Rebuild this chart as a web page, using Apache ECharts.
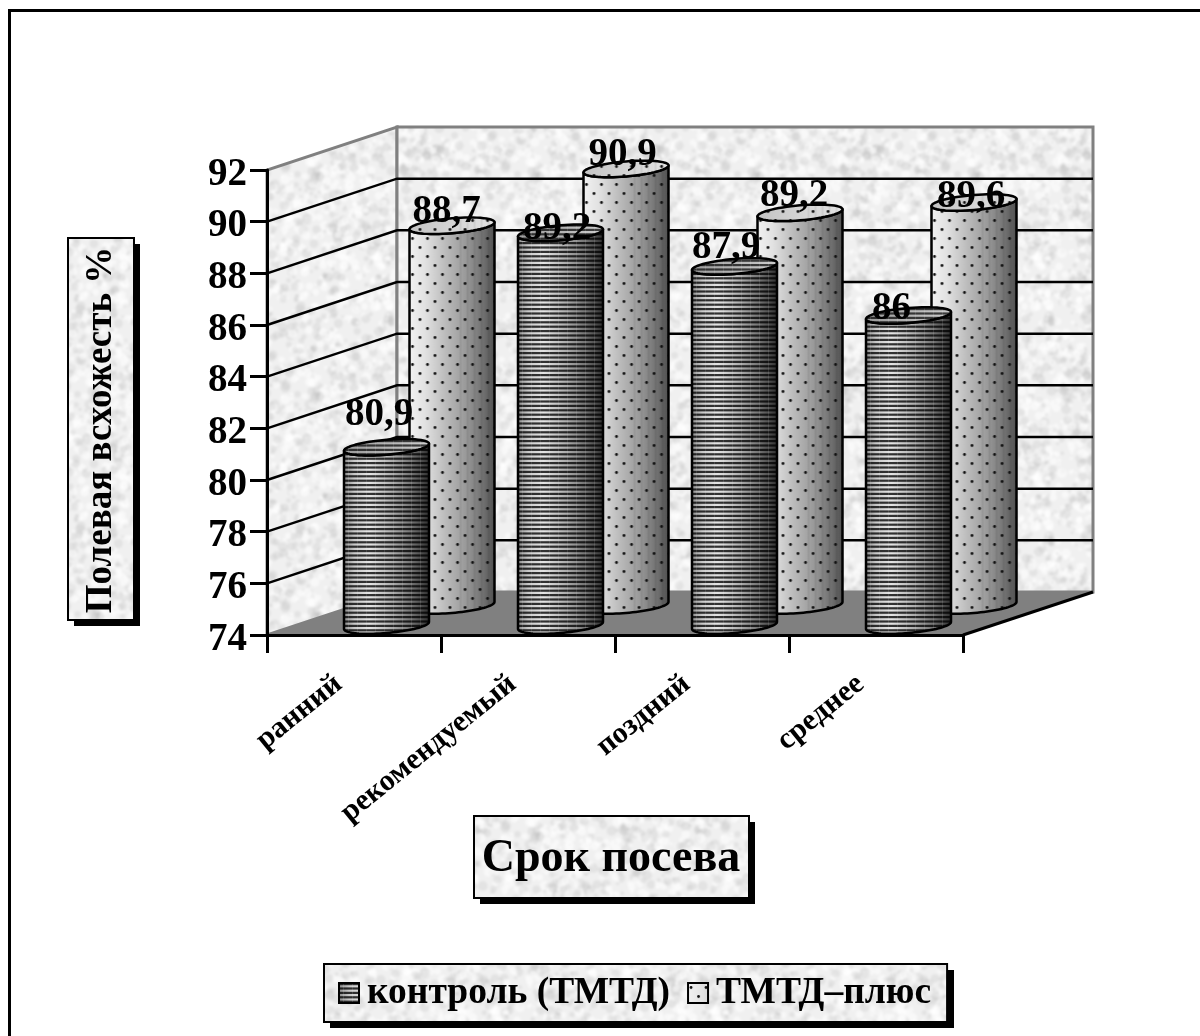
<!DOCTYPE html>
<html><head><meta charset="utf-8">
<style>html,body{margin:0;padding:0;background:#fff}#c{width:1200px;height:1036px}</style>
<script src="https://cdn.jsdelivr.net/npm/echarts@6/dist/echarts.min.js"></script>
</head><body><div id="c"></div>
<script>
// ---- data ----
const categories = ['ранний', 'рекомендуемый', 'поздний', 'среднее'];
const controlValues = [80.9, 89.2, 87.9, 86];
const plusValues = [88.7, 90.9, 89.2, 89.6];
const controlLabels = ['80,9', '89,2', '87,9', '86'];
const plusLabels = ['88,7', '90,9', '89,2', '89,6'];
const yTicks = [74, 76, 78, 80, 82, 84, 86, 88, 90, 92];
const seriesNames = ['контроль (ТМТД)', 'ТМТД–плюс'];
const yTitle = 'Полевая всхожесть %';
const xTitle = 'Срок посева';

// ---- style constants ----
const FONT = '"Liberation Serif","Times New Roman",serif';
const DEPTH = [130, -43];
const RX = 42.5, TILT = 3.5, RY = 7.5;
const controlLabelNudge = [[-7.5, -32], [-3.5, -4], [-8.5, -18], [-17, -7]];
const plusLabelNudge = [[-5.5, -13.5], [-3.5, -13.5], [-6, -16.5], [-3, -5.5]];
const controlOffset = [32.5, -9.5];
const plusOffset = [98, -29.5];

function mulberry(seed) {
  return function () {
    seed |= 0; seed = seed + 0x6D2B79F5 | 0;
    let t = Math.imul(seed ^ seed >>> 15, 1 | seed);
    t = t + Math.imul(t ^ t >>> 7, 61 | t) ^ t;
    return ((t ^ t >>> 14) >>> 0) / 4294967296;
  };
}
function canvasOf(w, h) { const c = document.createElement('canvas'); c.width = w; c.height = h; return c; }

function noiseTile() {
  const S = 220, a = canvasOf(S * 3, S * 3), g = a.getContext('2d'), r = mulberry(12345);
  g.fillStyle = '#f0f0f0'; g.fillRect(0, 0, S * 3, S * 3);
  for (let i = 0; i < 1300; i++) {
    const x = r() * S, y = r() * S, rad = 1 + r() * 4;
    const dark = r() < 0.5;
    g.fillStyle = dark ? 'rgba(180,180,180,0.22)' : 'rgba(255,255,255,0.55)';
    for (let ox = 0; ox < 3; ox++) for (let oy = 0; oy < 3; oy++) {
      g.beginPath(); g.arc(x + ox * S, y + oy * S, rad, 0, 7); g.fill();
    }
  }
  const c = canvasOf(S, S), h = c.getContext('2d');
  h.filter = 'blur(1.2px)';
  h.drawImage(a, -S, -S);
  return { image: c, repeat: 'repeat' };
}
function hGradient(g, w, stops) {
  const gr = g.createLinearGradient(0, 0, w, 0);
  stops.forEach(s => gr.addColorStop(s[0], s[1]));
  return gr;
}
function stripedFill(w, stops, darkAlpha) {
  const H = 22, c = canvasOf(w, H), g = c.getContext('2d');
  g.fillStyle = hGradient(g, w, stops); g.fillRect(0, 0, w, H);
  g.fillStyle = 'rgba(0,0,0,' + darkAlpha + ')';
  for (let i = 0; i < 5; i++) g.fillRect(0, i * 4.4, w, 2.2);
  g.fillStyle = 'rgba(255,255,255,0.12)';
  for (let x = 4; x < w; x += 9) g.fillRect(x, 0, 1, H);
  return { image: c, repeat: 'repeat' };
}
function dottedFill(w, stops) {
  const H = 18, c = canvasOf(w, H), g = c.getContext('2d');
  g.fillStyle = hGradient(g, w, stops); g.fillRect(0, 0, w, H);
  g.fillStyle = 'rgba(0,0,0,0.06)';
  for (let x = 50; x < w; x += 7) g.fillRect(x, 0, 2, H);
  g.fillStyle = '#111';
  for (let x = 3; x < w; x += 15) {
    g.beginPath(); g.arc(x, 4.5, 1.4, 0, 7); g.fill();
    g.beginPath(); g.arc(x + 7.5, 13.5, 1.4, 0, 7); g.fill();
  }
  return { image: c, repeat: 'repeat' };
}
const W = 85;
const stripeBody = stripedFill(W, [[0, '#8a8a8a'], [0.12, '#c8c8c8'], [0.3, '#e4e4e4'], [0.55, '#b0b0b0'], [0.8, '#707070'], [1, '#303030']], 0.78);
const stripeTop = stripedFill(W, [[0, '#999'], [1, '#ccc']], 0.7);
const dotBody = dottedFill(W, [[0, '#f2f2f2'], [0.18, '#e2e2e2'], [0.42, '#bcbcbc'], [0.66, '#9a9a9a'], [0.88, '#6e6e6e'], [1, '#505050']]);
const dotTop = dottedFill(W, [[0, '#c4c4c4'], [1, '#e4e4e4']]);
const texture = noiseTile();

function ellipsePts(cx, cy, from, to, n) {
  const pts = [];
  for (let i = 0; i <= n; i++) {
    const t = from + (to - from) * i / n;
    pts.push([cx + RX * Math.cos(t), cy - TILT * Math.cos(t) + RY * Math.sin(t)]);
  }
  return pts;
}

function cylinderRender(offset, body, top, labels, nudges, z) {
  return function (params, api) {
    const i = params.dataIndex;
    const topPt = api.coord([api.value(0), api.value(1)]);
    const basePt = api.coord([api.value(0), yTicks[0]]);
    const cx = RX, dxGroup = topPt[0] + offset[0] - RX, yT = topPt[1] + offset[1], yB = basePt[1] + offset[1];
    const lowerFront = ellipsePts(cx, yB, Math.PI, 0, 40);
    const topFront = ellipsePts(cx, yT, 0, Math.PI, 40);
    const bodyPts = lowerFront.concat(topFront);
    const topEll = ellipsePts(cx, yT, 0, 2 * Math.PI, 60);
    const n = nudges[i];
    return {
      type: 'group', x: dxGroup, y: 0,
      children: [
        { type: 'polygon', z2: z, shape: { points: bodyPts }, style: { fill: body, stroke: '#000', lineWidth: 2.5, lineJoin: 'round' } },
        { type: 'polygon', z2: z, shape: { points: topEll }, style: { fill: top, stroke: '#000', lineWidth: 2.5, lineJoin: 'round' } },
        { type: 'text', z2: 50, x: RX + n[0], y: yT + n[1],
          style: { text: labels[i], fill: '#000', font: 'bold 39px ' + FONT, align: 'center', verticalAlign: 'middle' } }
      ]
    };
  };
}

function wallRender(params, api) {
  const s = api.size([1, 0])[0];
  const x0 = api.coord([0, yTicks[0]])[0] - s / 2;
  const xN = api.coord([categories.length - 1, yTicks[0]])[0] + s / 2;
  const yBot = api.coord([0, yTicks[0]])[1];
  const yTop = api.coord([0, yTicks[yTicks.length - 1]])[1];
  const dx = DEPTH[0], dy = DEPTH[1];
  const kids = [
    { type: 'polygon', shape: { points: [[x0, yBot], [x0 + dx, yBot + dy], [x0 + dx, yTop + dy], [x0, yTop]] }, style: { fill: texture, stroke: '#808080', lineWidth: 3 } },
    { type: 'rect', shape: { x: x0 + dx, y: yTop + dy, width: xN - x0, height: yBot - yTop }, style: { fill: texture, stroke: '#808080', lineWidth: 3 } },
    { type: 'polygon', shape: { points: [[x0, yBot], [x0 + dx, yBot + dy], [xN + dx, yBot + dy], [xN, yBot]] }, style: { fill: '#808080', stroke: '#808080', lineWidth: 1 } },
    { type: 'line', shape: { x1: xN, y1: yBot, x2: xN + dx, y2: yBot + dy }, style: { stroke: '#000', lineWidth: 3 } }
  ];
  yTicks.slice(1, -1).forEach(v => {
    const y = api.coord([0, v])[1];
    kids.push({ type: 'polyline', shape: { points: [[x0, y], [x0 + dx, y + dy], [xN + dx, y + dy]] }, style: { stroke: '#000', lineWidth: 2.5, fill: null } });
  });
  return { type: 'group', children: kids };
}

const chart = echarts.init(document.getElementById('c'));
const toRows = vals => vals.map((v, i) => [i, v]);
function boxGraphic(x, y, w, h) {
  return [
    { type: 'rect', z: -1, silent: true, shape: { x: x + 6, y: y + 6, width: w, height: h }, style: { fill: '#000' } },
    { type: 'rect', z: 0, silent: true, shape: { x: x, y: y, width: w, height: h }, style: { fill: texture, stroke: '#000', lineWidth: 2 } }
  ];
}
chart.setOption({
  animation: false,
  backgroundColor: '#fff',
  grid: { left: 267, top: 170, width: 696, height: 465, containLabel: false },
  xAxis: {
    type: 'category', data: categories, z: 5,
    axisLine: { lineStyle: { color: '#000', width: 3 } },
    axisTick: { show: true, length: 18, lineStyle: { color: '#000', width: 3 } },
    axisLabel: { interval: 0, rotate: 39, margin: 33, padding: [0, 20, 0, 0], color: '#000', fontFamily: FONT, fontWeight: 'bold', fontSize: 30, hideOverlap: false }
  },
  yAxis: {
    type: 'value', min: 74, max: 92, interval: 2, z: 5,
    axisLine: { show: true, lineStyle: { color: '#000', width: 3 } },
    axisTick: { show: true, length: 17, lineStyle: { color: '#000', width: 3 } },
    splitLine: { show: false },
    axisLabel: { margin: 20, verticalAlign: 'top', lineHeight: 9, color: '#000', fontFamily: FONT, fontWeight: 'bold', fontSize: 39 }
  },
  legend: {
    left: 324, top: 964, padding: [10, 16, 10, 14], orient: 'horizontal', selectedMode: false,
    itemWidth: 20, itemHeight: 20, itemGap: 17,
    backgroundColor: texture, borderColor: '#000', borderWidth: 2,
    textStyle: { color: '#000', fontFamily: FONT, fontWeight: 'bold', fontSize: 37.5, lineHeight: 38, padding: [0, 0, 0, 3] },
    data: [
      { name: seriesNames[0], icon: 'rect', itemStyle: { color: stripeBody, borderColor: '#000', borderWidth: 2 } },
      { name: seriesNames[1], icon: 'rect', itemStyle: { color: dotBody, borderColor: '#000', borderWidth: 2 } }
    ]
  },
  graphic: { elements: [
    // frame
    { type: 'polyline', silent: true, shape: { points: [[9.5, 1036], [9.5, 10.5], [1200, 10.5]] }, style: { stroke: '#000', lineWidth: 3, fill: null } },
    ...boxGraphic(68, 238, 66, 382),
    { type: 'text', silent: true, z: 1, x: 101, y: 430, rotation: Math.PI / 2,
      style: { text: yTitle, fill: '#000', font: 'bold 37px ' + FONT, align: 'center', verticalAlign: 'middle' } },
    ...boxGraphic(474, 816, 275, 82),
    { type: 'text', silent: true, z: 1, x: 611, y: 859,
      style: { text: xTitle, fill: '#000', font: 'bold 46px ' + FONT, align: 'center', verticalAlign: 'middle' } },
    { type: 'rect', silent: true, z: -1, shape: { x: 330, y: 970, width: 624, height: 58 }, style: { fill: '#000' } }
  ] },
  series: [
    { type: 'custom', name: 'walls', z: 1, silent: true, data: [[0, 74]], encode: { x: 0, y: 1 }, renderItem: wallRender, clip: false },
    { type: 'custom', name: seriesNames[0], z: 3, silent: true, data: toRows(controlValues), encode: { x: 0, y: 1 },
      renderItem: cylinderRender(controlOffset, stripeBody, stripeTop, controlLabels, controlLabelNudge, 2), clip: false },
    { type: 'custom', name: seriesNames[1], z: 3, silent: true, data: toRows(plusValues), encode: { x: 0, y: 1 },
      renderItem: cylinderRender(plusOffset, dotBody, dotTop, plusLabels, plusLabelNudge, 1), clip: false }
  ]
});
</script></body></html>
